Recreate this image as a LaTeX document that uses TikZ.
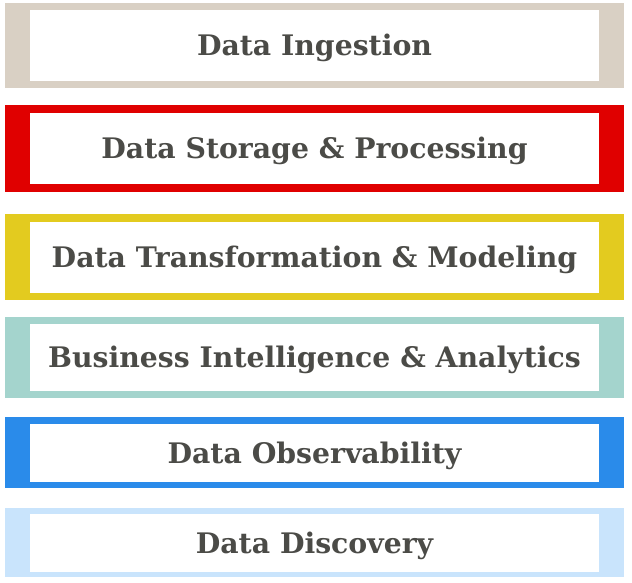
\documentclass[tikz,border=0pt]{standalone}
\usepackage{fontspec}
\setmainfont{DejaVu Serif}
\definecolor{txt}{HTML}{4B4B47}
\definecolor{cbeige}{HTML}{D9D0C4}
\definecolor{cred}{HTML}{E00000}
\definecolor{cyellow}{HTML}{E3CB1F}
\definecolor{cteal}{HTML}{A4D4CD}
\definecolor{cblue}{HTML}{2A8BEA}
\definecolor{clight}{HTML}{C9E4FC}
\tikzset{
  inner/.style={fill=white, inner sep=0pt, minimum width=569pt, text=txt,
    text height=20.5pt, text depth=0pt,
    font=\fontsize{28.3}{32}\selectfont\bfseries, anchor=center}
}
\begin{document}
\begin{tikzpicture}[x=1pt,y=-1pt]
\useasboundingbox (0,0) rectangle (632,582);
\fill[cbeige] (5,3) rectangle (624,88);
\node[inner, minimum height=71pt] (b1) at (314.5,45.5) {Data Ingestion};
\fill[cred] (5,105) rectangle (624,192);
\node[inner, minimum height=71pt] (b2) at (314.5,148.5) {Data Storage \& Processing};
\fill[cyellow] (5,214) rectangle (624,300);
\node[inner, minimum height=71pt] (b3) at (314.5,257.5) {Data Transformation \& Modeling};
\fill[cteal] (5,317) rectangle (624,398);
\node[inner, minimum height=67pt] (b4) at (314.5,357.5) {Business Intelligence \& Analytics};
\fill[cblue] (5,417) rectangle (624,488);
\node[inner, minimum height=58pt] (b5) at (314.5,453) {Data Observability};
\fill[clight] (5,508) rectangle (624,577);
\node[inner, minimum height=58pt] (b6) at (314.5,543) {Data Discovery};
\end{tikzpicture}
\end{document}
